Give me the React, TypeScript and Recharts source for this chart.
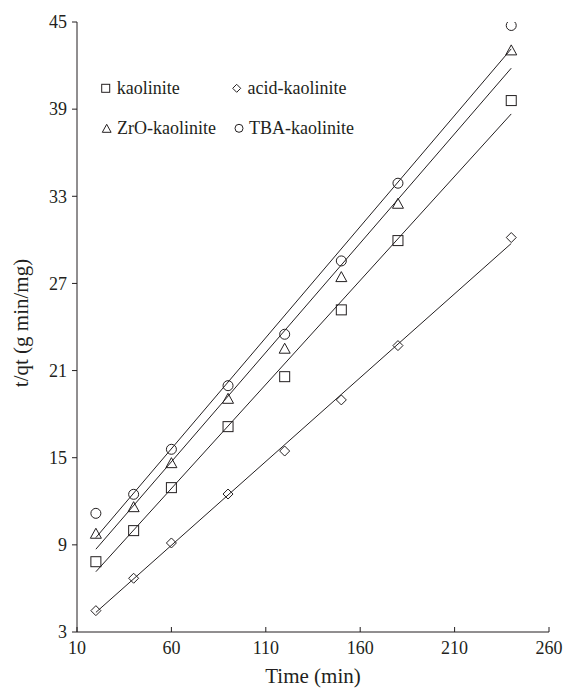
import React from "react";
import { ScatterChart, Scatter, XAxis, YAxis, Legend } from "recharts";

const timeValues = [20, 40, 60, 90, 120, 150, 180, 240];
const kaolinite = [7.84, 9.98, 12.94, 17.14, 20.58, 25.18, 29.95, 39.59];
const acidKaolinite = [4.47, 6.7, 9.13, 12.5, 15.46, 18.98, 22.72, 30.16];
const zroKaolinite = [9.8, 11.63, 14.66, 19.09, 22.54, 27.47, 32.52, 43.08];
const tbaKaolinite = [11.17, 12.48, 15.58, 19.96, 23.5, 28.55, 33.9, 44.76];

const fitTimes = [20, 240];
const kaoliniteFit = [7.15, 38.67];
const acidKaoliniteFit = [4.35, 29.75];
const zroKaoliniteFit = [8.7, 41.82];
const tbaKaoliniteFit = [9.5, 43.15];

const xTicks = [10, 60, 110, 160, 210, 260];
const yTicks = [3, 9, 15, 21, 27, 33, 39, 45];

const seriesNames = ["kaolinite", "acid-kaolinite", "ZrO-kaolinite", "TBA-kaolinite"];

const INK = "#231f20";
const FONT = "'Liberation Serif', 'Times New Roman', serif";

const toPoints = (xs: number[], ys: number[]) => xs.map((x, i) => ({ x, y: ys[i] }));

type MarkerKind = "square" | "diamond" | "triangle" | "circle";

function Marker({ kind, cx, cy, s }: { kind: MarkerKind; cx: number; cy: number; s: number }) {
  const h = s / 2;
  const common = { fill: "none", stroke: INK, strokeWidth: 1 };
  if (kind === "square") return <rect x={cx - h} y={cy - h} width={s} height={s} {...common} />;
  if (kind === "circle") return <circle cx={cx} cy={cy} r={h} {...common} />;
  if (kind === "diamond")
    return <polygon points={`${cx},${cy - h} ${cx + h},${cy} ${cx},${cy + h} ${cx - h},${cy}`} {...common} />;
  return (
    <polygon
      points={`${cx},${cy - h} ${cx + h * 1.1},${cy + h} ${cx - h * 1.1},${cy + h}`}
      {...common}
    />
  );
}

const shapeFor = (kind: MarkerKind) => (props: any) =>
  <Marker kind={kind} cx={props.cx} cy={props.cy} s={10} />;

const XTick = (props: any) => {
  const { x, y, payload } = props;
  return (
    <g>
      <line x1={x} y1={y} x2={x} y2={y - 5} stroke={INK} strokeWidth={1} />
      <text x={x} y={y + 22} textAnchor="middle" style={{ fontFamily: FONT, fontSize: 18 }} fill={INK}>
        {payload.value}
      </text>
    </g>
  );
};

const YTick = (props: any) => {
  const { x, y, payload } = props;
  return (
    <text x={x} y={y} dy="0.35em" textAnchor="end" style={{ fontFamily: FONT, fontSize: 18 }} fill={INK}>
      {payload.value}
    </text>
  );
};

const YLabel = (props: any) => {
  const vb = props.viewBox || {};
  const cy = vb.y + vb.height / 2 - 4;
  const cx = 28;
  return (
    <text
      x={cx}
      y={cy}
      transform={`rotate(-90, ${cx}, ${cy})`}
      textAnchor="middle"
      style={{ fontFamily: FONT, fontSize: 21 }}
      fill={INK}
    >
      t/qt (g min/mg)
    </text>
  );
};

const LegendContent = () => {
  const items: { kind: MarkerKind; mx: number; my: number; tx: number; ty: number; name: string }[] = [
    { kind: "square", mx: 10.7, my: 18.3, tx: 21.7, ty: 24, name: seriesNames[0] },
    { kind: "diamond", mx: 141.7, my: 18.3, tx: 152.5, ty: 24, name: seriesNames[1] },
    { kind: "triangle", mx: 11.7, my: 58.3, tx: 22, ty: 64, name: seriesNames[2] },
    { kind: "circle", mx: 144, my: 58.3, tx: 154, ty: 64, name: seriesNames[3] },
  ];
  return (
    <svg width={330} height={80} style={{ overflow: "visible", display: "block" }}>
      {items.map((it) => (
        <g key={it.name}>
          <Marker kind={it.kind} cx={it.mx} cy={it.my} s={8} />
          <text x={it.tx} y={it.ty} style={{ fontFamily: FONT, fontSize: 18 }} fill={INK}>
            {it.name}
          </text>
        </g>
      ))}
    </svg>
  );
};

export default function App() {
  return (
    <div style={{ position: "absolute", left: 0, top: 0, width: 565, height: 688, background: "#fff" }}>
      <ScatterChart width={565} height={688} margin={{ top: 22, right: 16, bottom: 0, left: 0 }}>
        <XAxis
          type="number"
          dataKey="x"
          domain={[10, 260]}
          ticks={xTicks}
          allowDataOverflow
          height={56}
          tickLine={false}
          tickSize={0}
          tickMargin={0}
          tick={<XTick />}
          axisLine={{ stroke: INK, strokeWidth: 1 }}
          label={{
            value: "Time (min)",
            position: "insideBottom",
            offset: 5,
            style: { fontFamily: FONT, fontSize: 21, fill: INK },
          }}
        />
        <YAxis
          type="number"
          dataKey="y"
          domain={[3, 45]}
          ticks={yTicks}
          allowDataOverflow
          width={77}
          tickSize={5}
          tickMargin={5}
          tickLine={{ stroke: INK, strokeWidth: 1 }}
          axisLine={{ stroke: INK, strokeWidth: 1 }}
          tick={<YTick />}
          label={<YLabel />}
        />
        <Legend
          layout="horizontal"
          verticalAlign="middle"
          align="center"
          content={<LegendContent />}
          wrapperStyle={{ position: "absolute", left: 95, top: 70, width: 330, height: 80 }}
        />
        <Scatter
          name="kaolinite fit"
          data={toPoints(fitTimes, kaoliniteFit)}
          line={{ stroke: INK, strokeWidth: 1 }}
          shape={() => <g />}
          isAnimationActive={false}
        />
        <Scatter
          name="acid-kaolinite fit"
          data={toPoints(fitTimes, acidKaoliniteFit)}
          line={{ stroke: INK, strokeWidth: 1 }}
          shape={() => <g />}
          isAnimationActive={false}
        />
        <Scatter
          name="ZrO-kaolinite fit"
          data={toPoints(fitTimes, zroKaoliniteFit)}
          line={{ stroke: INK, strokeWidth: 1 }}
          shape={() => <g />}
          isAnimationActive={false}
        />
        <Scatter
          name="TBA-kaolinite fit"
          data={toPoints(fitTimes, tbaKaoliniteFit)}
          line={{ stroke: INK, strokeWidth: 1 }}
          shape={() => <g />}
          isAnimationActive={false}
        />
        <Scatter name={seriesNames[0]} data={toPoints(timeValues, kaolinite)} shape={shapeFor("square")} isAnimationActive={false} />
        <Scatter name={seriesNames[1]} data={toPoints(timeValues, acidKaolinite)} shape={shapeFor("diamond")} isAnimationActive={false} />
        <Scatter name={seriesNames[2]} data={toPoints(timeValues, zroKaolinite)} shape={shapeFor("triangle")} isAnimationActive={false} />
        <Scatter name={seriesNames[3]} data={toPoints(timeValues, tbaKaolinite)} shape={shapeFor("circle")} isAnimationActive={false} />
      </ScatterChart>
    </div>
  );
}
